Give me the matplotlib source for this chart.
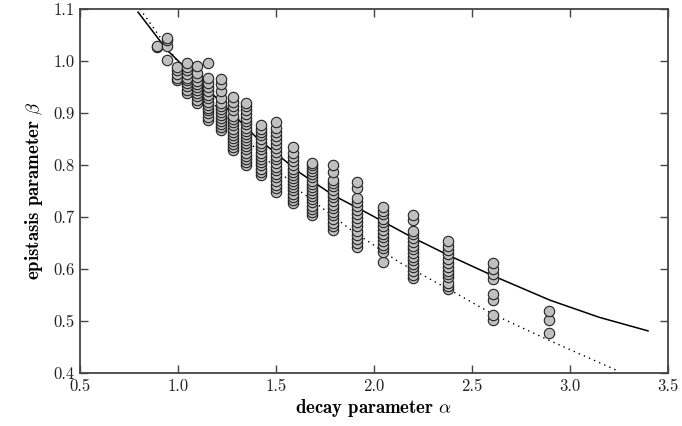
import numpy as np
import matplotlib.pyplot as plt

# decay parameter alpha for each column of points
alpha = [0.894, 0.942, 0.993, 1.044, 1.098, 1.152, 1.218, 1.279, 1.347, 1.423,
         1.500, 1.587, 1.685, 1.792, 1.912, 2.044, 2.197, 2.379, 2.605, 2.893]

# epistasis parameter beta
beta = [
    [1.027, 1.029],
    [1.002, 1.029, 1.040, 1.044],
    [0.963, 0.968, 0.975, 0.983, 0.988],
    [0.938, 0.945, 0.952, 0.958, 0.963, 0.968, 0.975, 0.982, 0.988, 0.996],
    [0.919, 0.925, 0.932, 0.938, 0.944, 0.950, 0.956, 0.962, 0.970, 0.976, 0.990],
    [0.887, 0.893, 0.900, 0.905, 0.910, 0.916, 0.922, 0.928, 0.935, 0.942, 0.950, 0.958, 0.967, 0.996],
    [0.867, 0.873, 0.878, 0.884, 0.890, 0.896, 0.902, 0.908, 0.914, 0.920, 0.928, 0.943, 0.955, 0.965],
    [0.829, 0.835, 0.840, 0.846, 0.852, 0.858, 0.864, 0.870, 0.876, 0.882, 0.888, 0.895, 0.905, 0.913, 0.922, 0.931],
    [0.800, 0.806, 0.812, 0.818, 0.824, 0.830, 0.836, 0.842, 0.848, 0.854, 0.860, 0.866, 0.872, 0.878, 0.884, 0.890, 0.898, 0.906, 0.913, 0.919],
    [0.781, 0.787, 0.793, 0.800, 0.806, 0.812, 0.818, 0.824, 0.830, 0.836, 0.843, 0.850, 0.857, 0.864, 0.870, 0.877],
    [0.748, 0.755, 0.762, 0.769, 0.776, 0.783, 0.790, 0.797, 0.804, 0.811, 0.818, 0.825, 0.832, 0.840, 0.848, 0.856, 0.864, 0.872, 0.883],
    [0.727, 0.733, 0.739, 0.745, 0.751, 0.757, 0.763, 0.769, 0.775, 0.781, 0.787, 0.793, 0.800, 0.808, 0.816, 0.824, 0.835],
    [0.704, 0.710, 0.716, 0.722, 0.728, 0.734, 0.740, 0.746, 0.752, 0.758, 0.764, 0.770, 0.776, 0.782, 0.788, 0.795, 0.800, 0.804],
    [0.675, 0.682, 0.689, 0.696, 0.703, 0.710, 0.717, 0.724, 0.731, 0.738, 0.745, 0.752, 0.759, 0.766, 0.771, 0.787, 0.800],
    [0.642, 0.650, 0.658, 0.666, 0.674, 0.682, 0.690, 0.698, 0.706, 0.714, 0.722, 0.729, 0.737, 0.756, 0.768],
    [0.614, 0.633, 0.640, 0.647, 0.654, 0.661, 0.668, 0.675, 0.682, 0.690, 0.697, 0.705, 0.712, 0.720],
    [0.582, 0.589, 0.596, 0.603, 0.610, 0.617, 0.624, 0.631, 0.638, 0.645, 0.652, 0.660, 0.667, 0.673, 0.694, 0.704],
    [0.561, 0.567, 0.574, 0.584, 0.590, 0.597, 0.604, 0.612, 0.620, 0.628, 0.636, 0.645, 0.653],
    [0.501, 0.512, 0.540, 0.551, 0.580, 0.590, 0.600, 0.611],
    [0.476, 0.502, 0.519],
]

# solid curve, points
solid_a = [0.796, 0.944, 1.180, 1.400, 1.622, 1.791, 1.964, 2.199, 2.388, 2.607, 2.898, 3.150, 3.398]
solid_b = [1.094, 1.021, 0.935, 0.853, 0.785, 0.742, 0.708, 0.660, 0.625, 0.587, 0.540, 0.507, 0.481]

# dotted curve, points
dot_a = [0.806, 1.000, 1.179, 1.400, 1.622, 1.880, 2.133, 2.372, 2.607, 2.898, 3.245]
dot_b = [1.100, 0.998, 0.919, 0.830, 0.750, 0.676, 0.612, 0.563, 0.513, 0.462, 0.404]

plt.rcParams['font.family'] = 'cmr10'
plt.rcParams['mathtext.fontset'] = 'cm'
plt.rcParams['axes.unicode_minus'] = False

fig = plt.figure(figsize=(6.82, 4.26), dpi=100)
ax = fig.add_axes([0.1173, 0.1244, 0.8622, 0.8545])

xs = np.concatenate([[a] * len(b) for a, b in zip(alpha, beta)])
ys = np.concatenate(beta)
ax.scatter(xs, ys, s=56, facecolor='#c0c0c0', edgecolor='#222222', linewidth=0.8, zorder=3)

ax.plot(solid_a, solid_b, color='black', linewidth=1.1, zorder=2)
ax.plot(dot_a, dot_b, color='black', linewidth=1.0, linestyle=(0, (1, 3)), zorder=2)

ax.set_xlim(0.5, 3.5)
ax.set_ylim(0.4, 1.1)
ax.set_xticks(np.arange(0.5, 3.51, 0.5))
ax.set_yticks(np.arange(0.4, 1.101, 0.1))
ax.set_xticklabels([f'{v:.1f}' for v in np.arange(0.5, 3.51, 0.5)])
ax.set_yticklabels([f'{v:.1f}' for v in np.arange(0.4, 1.101, 0.1)])

ax.tick_params(direction='in', top=True, right=True, length=6, width=1.0,
               color='#444444', labelcolor='#222222', labelsize=12, pad=4)
for sp in ax.spines.values():
    sp.set_color('#444444')
    sp.set_linewidth(1.3)

ax.set_xlabel(r'decay parameter $\alpha$', fontsize=13.5, family='cmb10', labelpad=2)
ax.set_ylabel(r'epistasis parameter $\beta$', fontsize=13.5, family='cmb10', labelpad=6)

fig.savefig('out.png', dpi=100)
